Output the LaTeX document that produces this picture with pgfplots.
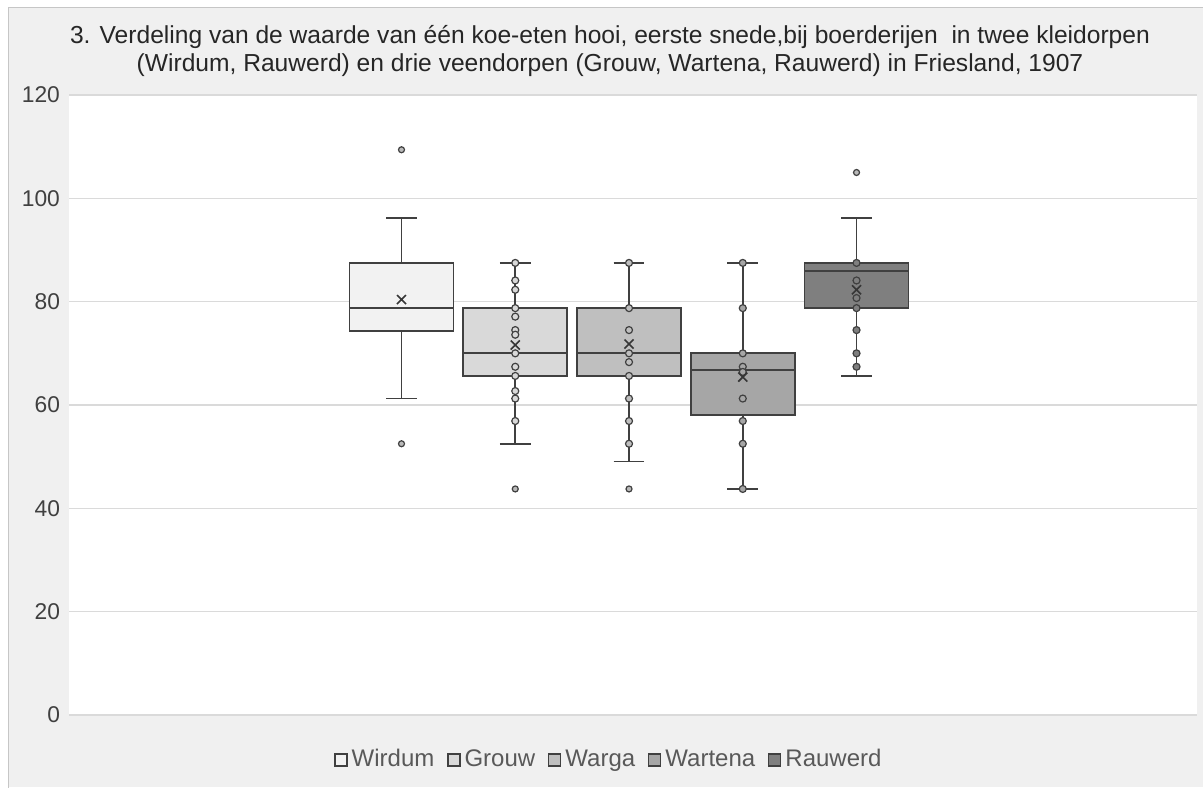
\documentclass[border=0pt]{standalone}
\usepackage{pgfplots}
\pgfplotsset{compat=1.18}
\usepgfplotslibrary{statistics}
\usepackage{fontspec}
\setmainfont{Liberation Sans}
\definecolor{bg}{HTML}{F0F0F0}
\definecolor{edge}{HTML}{404040}
\definecolor{gridc}{HTML}{DADADA}
\definecolor{cA}{HTML}{F2F2F2}
\definecolor{cB}{HTML}{D9D9D9}
\definecolor{cC}{HTML}{BFBFBF}
\definecolor{cD}{HTML}{A6A6A6}
\definecolor{cE}{HTML}{7F7F7F}
\definecolor{txt}{HTML}{404040}
\definecolor{legtxt}{HTML}{595959}
\begin{document}
\begin{tikzpicture}
\path[use as bounding box, fill=white] (0,0) rectangle (601.5pt,393.5pt);
\fill[bg] (4pt,0pt) rectangle (601.5pt,389.5pt);
\draw[gray!45, line width=0.5pt] (4pt,-1pt) -- (4pt,389.5pt) -- (602pt,389.5pt);
\node[align=center, font=\fontsize{12.3}{14}\selectfont, text=black!85] at (305pt,368pt)
 {3. Verdeling van de waarde van één koe-eten hooi, eerste snede,bij boerderijen \ in twee kleidorpen\\
 (Wirdum, Rauwerd) en drie veendorpen (Grouw, Wartena, Rauwerd) in Friesland, 1907};
\begin{axis}[
  at={(34.5pt,36pt)}, anchor=south west,
  scale only axis, width=564pt, height=310pt,
  xmin=-1.923, xmax=7.993, ymin=0, ymax=120,
  ytick={0,20,...,120}, xtick=\empty,
  axis background/.style={fill=white},
  axis line style={draw=none}, tick style={draw=none},
  ymajorgrids, grid style={gridc, line width=0.8pt},
  /pgf/number format/assume math mode=true,
  yticklabel style={font=\fontsize{11.4}{12}\selectfont, text=txt, xshift=-1pt},
  boxplot/draw direction=y,
  boxplot/box extend=0.914, boxplot/whisker extend=0.27,
  legend columns=5,
  legend style={at={(0.4796,-0.0726)}, anchor=center, draw=none, fill=none,
    font=\fontsize{12}{13}\selectfont, text=legtxt,
    nodes={text height=1.7ex, text depth=0.4ex},
    /tikz/every even column/.append style={column sep=4.5pt},
    /tikz/every odd column/.append style={column sep=0pt}},
]
\addlegendimage{legend image code/.code={\draw[fill=cA, draw=edge, line width=0.6pt] (0pt,-3pt) rectangle (6pt,3pt);}}
\addlegendimage{legend image code/.code={\draw[fill=cB, draw=edge, line width=0.6pt] (0pt,-3pt) rectangle (6pt,3pt);}}
\addlegendimage{legend image code/.code={\draw[fill=cC, draw=edge, line width=0.6pt] (0pt,-3pt) rectangle (6pt,3pt);}}
\addlegendimage{legend image code/.code={\draw[fill=cD, draw=edge, line width=0.6pt] (0pt,-3pt) rectangle (6pt,3pt);}}
\addlegendimage{legend image code/.code={\draw[fill=cE, draw=edge, line width=0.6pt] (0pt,-3pt) rectangle (6pt,3pt);}}
\legend{Wirdum,Grouw,Warga,Wartena,Rauwerd}

% Wirdum
\addplot+[forget plot, solid, fill=cA, draw=edge, line width=0.9pt, mark=none,
 boxplot prepared={draw position=1, lower whisker=61.25, lower quartile=74.375,
 median=78.75, upper quartile=87.5, upper whisker=96.25}] coordinates {};
% Grouw
\addplot+[forget plot, solid, fill=cB, draw=edge, line width=0.9pt, mark=none,
 boxplot prepared={draw position=2, lower whisker=52.5, lower quartile=65.625,
 median=70, upper quartile=78.75, upper whisker=87.5}] coordinates {};
% Warga
\addplot+[forget plot, solid, fill=cC, draw=edge, line width=0.9pt, mark=none,
 boxplot prepared={draw position=3, lower whisker=49.05, lower quartile=65.625,
 median=70, upper quartile=78.75, upper whisker=87.5}] coordinates {};
% Wartena
\addplot+[forget plot, solid, fill=cD, draw=edge, line width=0.9pt, mark=none,
 boxplot prepared={draw position=4, lower whisker=43.75, lower quartile=58.1,
 median=66.7, upper quartile=70, upper whisker=87.5}] coordinates {};
% Rauwerd
\addplot+[forget plot, solid, fill=cE, draw=edge, line width=0.9pt, mark=none,
 boxplot prepared={draw position=5, lower whisker=65.625, lower quartile=78.75,
 median=85.9, upper quartile=87.5, upper whisker=96.25}] coordinates {};

% inner points
\addplot[forget plot, only marks, mark=*, mark size=1.75pt,
 mark options={fill=cB, draw=edge, line width=0.6pt}] coordinates {
 (2,87.5)(2,84.1)(2,82.3)(2,78.75)(2,77.1)(2,74.5)(2,73.6)(2,70)(2,67.4)
 (2,65.625)(2,62.7)(2,61.25)(2,56.9)};
\addplot[forget plot, only marks, mark=*, mark size=1.75pt,
 mark options={fill=cC, draw=edge, line width=0.6pt}] coordinates {
 (3,87.5)(3,78.75)(3,74.5)(3,70)(3,68.3)(3,65.625)(3,61.25)(3,56.9)(3,52.5)};
\addplot[forget plot, only marks, mark=*, mark size=1.75pt,
 mark options={fill=cD, draw=edge, line width=0.6pt}] coordinates {
 (4,87.5)(4,78.75)(4,70)(4,67.4)(4,66.4)(4,61.25)(4,56.9)(4,52.5)(4,43.75)};
\addplot[forget plot, only marks, mark=*, mark size=1.75pt,
 mark options={fill=cE, draw=edge, line width=0.6pt}] coordinates {
 (5,87.5)(5,84.1)(5,80.7)(5,78.75)(5,74.5)(5,70)(5,67.4)};
% outliers
\addplot[forget plot, only marks, mark=*, mark size=1.5pt,
 mark options={fill=gray!55, draw=edge, line width=0.6pt}] coordinates {
 (1,109.4)(1,52.5)(2,43.75)(3,43.75)(5,105)};
% means
\addplot[forget plot, only marks, mark=x, mark size=3.2pt,
 mark options={draw=edge!85!black, line width=0.8pt}] coordinates {
 (1,80.4)(2,71.6)(3,71.8)(4,65.4)(5,82.3)};
\end{axis}
\end{tikzpicture}
\end{document}
